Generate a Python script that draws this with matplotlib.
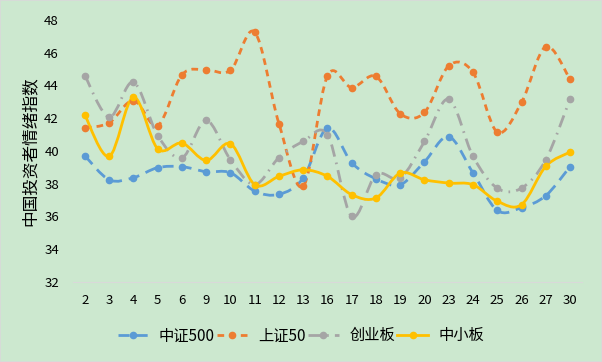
import numpy as np
import matplotlib
matplotlib.use('Agg')
import matplotlib.pyplot as plt
from matplotlib.path import Path
from matplotlib.patches import PathPatch
from matplotlib.lines import Line2D

plt.rcParams['font.family'] = ['Noto Sans CJK SC', 'DejaVu Sans']

days = ['2', '3', '4', '5', '6', '9', '10', '11', '12', '13', '16', '17',
        '18', '19', '20', '23', '24', '25', '26', '27', '30']
zz500 = [39.7, 38.24, 38.37, 38.98, 39.04, 38.73, 38.67, 37.55, 37.35, 38.35, 41.4,
         39.28, 38.3, 37.94, 39.34, 40.87, 38.66, 36.37, 36.54, 37.27, 39.04]
sz50 = [41.41, 41.72, 43.08, 41.55, 44.65, 44.95, 44.92, 47.25, 41.66, 37.84, 44.59,
        43.87, 44.55, 42.27, 42.35, 45.2, 44.8, 41.15, 42.96, 46.37, 44.38]
cyb = [44.59, 42.07, 44.2, 40.94, 39.58, 41.86, 39.46, 37.95, 39.6, 40.58, 40.99,
       36.0, 38.55, 38.35, 40.58, 43.16, 39.67, 37.73, 37.73, 39.46, 43.16]
zxb = [42.17, 39.67, 43.28, 40.13, 40.48, 39.42, 40.44, 37.94, 38.45, 38.85, 38.45,
       37.33, 37.13, 38.65, 38.24, 38.04, 37.94, 36.93, 36.72, 39.06, 39.93]

series = [
    ('中证500', zz500, '#5B9BD5', (4, 2.5)),
    ('上证50', sz50, '#ED7D31', (2.4, 1.8)),
    ('创业板', cyb, '#A5A5A5', (4.5, 2.2, 0.6, 2.2)),
    ('中小板', zxb, '#FFC000', None),
]

bg = '#cce8cf'


def smooth_path(xs, ys):
    # excel-like smoothed line drawn as bezier segments
    pts = np.column_stack([xs, ys])
    n = len(pts)
    verts = [pts[0]]
    codes = [Path.MOVETO]
    for i in range(n - 1):
        p0 = pts[i - 1] if i > 0 else pts[i]
        p1 = pts[i]
        p2 = pts[i + 1]
        p3 = pts[i + 2] if i + 2 < n else pts[i + 1]
        c1 = p1 + (p2 - p0) / 6.0
        c2 = p2 - (p3 - p1) / 6.0
        verts += [c1, c2, p2]
        codes += [Path.CURVE4] * 3
    return Path(verts, codes)


fig = plt.figure(figsize=(6.02, 3.62), dpi=100, facecolor=bg)
ax = fig.add_axes([0.121, 0.221, 0.846, 0.724])
ax.set_facecolor(bg)

x = np.arange(len(days))
handles = []
for name, vals, col, dash in series:
    patch = PathPatch(smooth_path(x, vals), fill=False, edgecolor=col, lw=2.0,
                      capstyle='butt')
    if dash is not None:
        patch.set_linestyle((0, dash))
    ax.add_patch(patch)
    ax.plot(x, vals, 'o', color=col, ms=4.5, zorder=3)
    h = Line2D([], [], color=col, lw=2.0, marker='o', ms=4.5,
               linestyle=(0, dash) if dash is not None else '-')
    handles.append((h, name))

ax.set_xlim(-0.5, len(days) - 0.5)
ax.set_ylim(32, 48)
ax.set_yticks(range(32, 49, 2))
ax.set_xticks(x)
ax.set_xticklabels(days)
ax.tick_params(length=0, labelsize=9.5, colors='black')
ax.tick_params(axis='x', pad=9)
ax.tick_params(axis='y', pad=10)
for s in ['top', 'right', 'left']:
    ax.spines[s].set_visible(False)
ax.spines['bottom'].set_color('#d9d9d9')
ax.spines['bottom'].set_linewidth(0.8)

ax.set_ylabel('中国投资者情绪指数', fontsize=12, labelpad=4)

leg = fig.legend([h for h, _ in handles], [n for _, n in handles],
                 loc='center', bbox_to_anchor=(0.5, 0.072), ncol=4, frameon=False,
                 fontsize=11, handlelength=2.0, columnspacing=0.15, handletextpad=0.7)

fig.patches.append(plt.Rectangle((0, 0), 1, 1, transform=fig.transFigure, fill=False,
                                 edgecolor='#d9d9d9', lw=1.2))

fig.savefig('out.png', dpi=100, facecolor=bg)
